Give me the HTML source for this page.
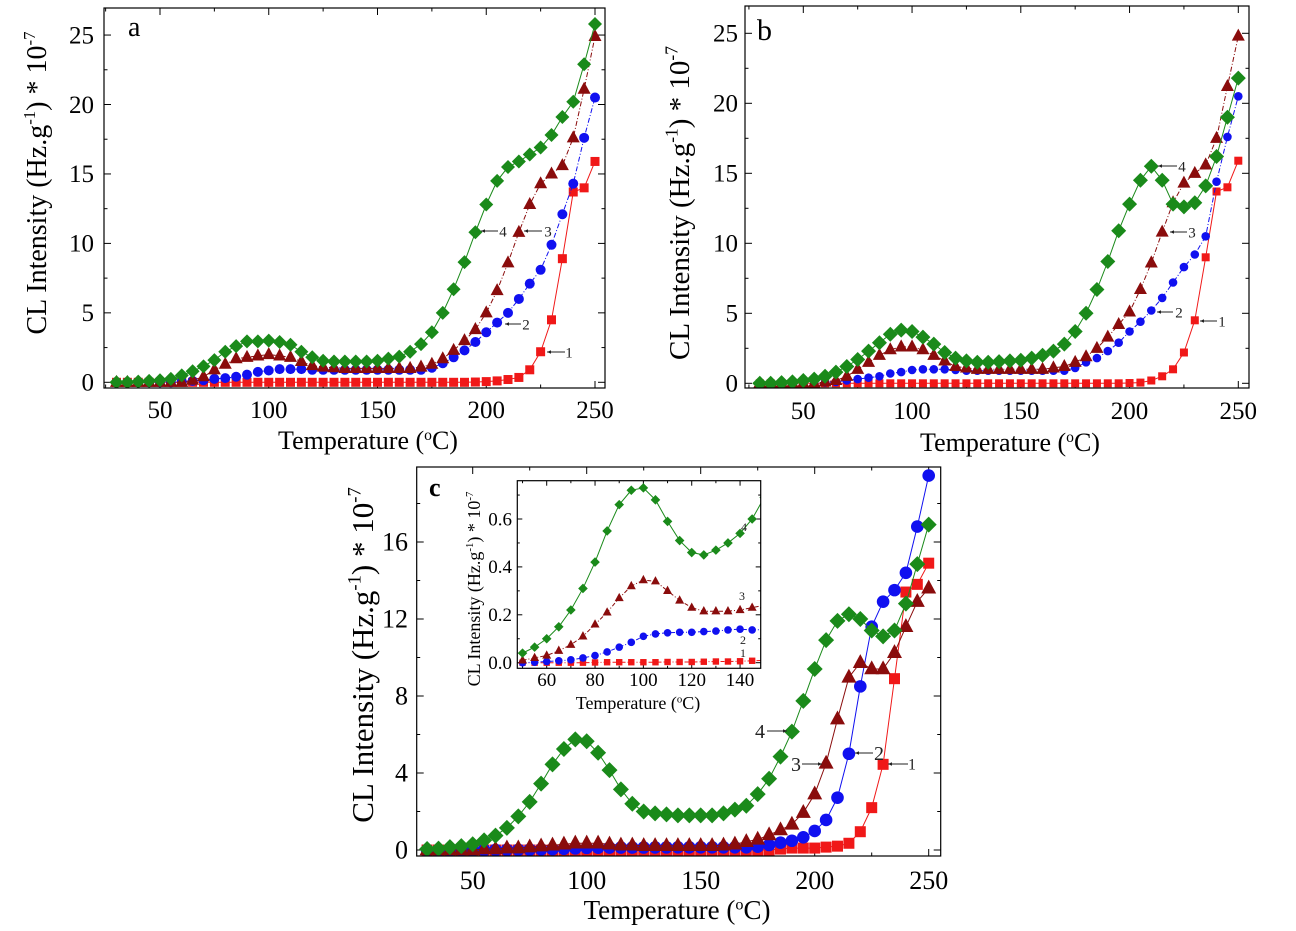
<!DOCTYPE html>
<html><head><meta charset="utf-8"><style>
html,body{margin:0;padding:0;background:#fff;}
svg{display:block;font-family:"Liberation Serif",serif;}
</style></head>
<body>
<svg id="fig" width="1296" height="931" viewBox="0 0 1296 931" xmlns="http://www.w3.org/2000/svg"></svg>
<script>
const temps=[30,35,40,45,50,55,60,65,70,75,80,85,90,95,100,105,110,115,120,125,130,135,140,145,150,155,160,165,170,175,180,185,190,195,200,205,210,215,220,225,230,235,240,245,250];
const aGreen=[0,0,0.05,0.1,0.15,0.25,0.5,0.8,1.15,1.6,2.2,2.6,2.95,2.95,3.0,2.9,2.7,2.2,1.8,1.55,1.5,1.5,1.5,1.5,1.55,1.7,1.85,2.2,2.75,3.6,5.0,6.7,8.65,10.8,12.8,14.5,15.5,15.9,16.4,16.9,17.8,19.1,20.2,22.9,25.8];
const aDark=[0,0,0,0,0,0,0,0.15,0.4,0.9,1.3,1.7,1.8,1.9,2.0,1.9,1.8,1.5,1.2,1.1,1.05,1.0,1.0,1.0,1.0,1.0,1.0,1.0,1.1,1.3,1.7,2.3,3.0,3.8,5.0,6.6,8.6,10.8,12.8,14.3,15.0,15.6,17.6,21.1,24.9];
const aBlue=[0,0,0,0,0,0,0.05,0.1,0.15,0.25,0.3,0.4,0.55,0.75,0.85,0.95,0.95,0.95,0.9,0.9,0.9,0.9,0.9,0.9,0.9,0.9,0.9,0.9,0.9,1.05,1.37,1.8,2.3,2.9,3.6,4.3,5.0,6.0,7.1,8.1,9.9,12.1,14.3,17.6,20.5];
const aRed=[0,0,0,0,0,0,0,0,0,0,0,0,0,0,0,0,0,0,0,0,0,0,0,0,0,0,0,0,0,0,0,0,0,0.02,0.05,0.1,0.2,0.35,0.9,2.2,4.5,8.9,13.7,14.0,15.9];
const bGreen=[0,0,0.05,0.1,0.2,0.3,0.5,0.8,1.2,1.7,2.3,2.9,3.5,3.8,3.7,3.3,2.8,2.2,1.8,1.6,1.5,1.5,1.55,1.6,1.65,1.8,2.0,2.3,2.8,3.7,5.0,6.7,8.7,10.9,12.8,14.5,15.5,14.5,12.8,12.6,12.9,14.1,16.2,19.0,21.8];
const bDark=[0,0,0,0,0,0,0.1,0.2,0.5,1.0,1.5,2.0,2.4,2.6,2.6,2.4,2.0,1.6,1.2,1.1,1.0,1.0,1.0,1.0,1.0,1.0,1.0,1.1,1.2,1.5,1.9,2.5,3.3,4.2,5.1,6.7,8.6,10.8,12.9,14.3,15.0,15.6,17.5,21.2,24.8];
const bBlue=[0,0,0,0,0,0,0.05,0.1,0.2,0.3,0.4,0.5,0.7,0.8,0.95,1.0,1.0,1.0,0.95,0.9,0.9,0.9,0.9,0.9,0.9,0.9,0.9,0.9,0.9,1.1,1.5,1.8,2.3,2.9,3.7,4.4,5.2,6.1,7.2,8.3,9.2,10.5,14.4,17.6,20.5];
const bRed=[0,0,0,0,0,0,0,0,0,0,0,0,0,0,0,0,0,0,0,0,0,0,0,0,0,0,0,0,0,0,0,0,0,0,0.02,0.05,0.2,0.5,1.0,2.2,4.5,9.0,13.7,14.0,15.9];
const cGreen=[0.05,0.07,0.15,0.2,0.3,0.5,0.75,1.15,1.75,2.5,3.45,4.45,5.25,5.75,5.65,5.05,4.15,3.15,2.4,2.0,1.9,1.85,1.8,1.8,1.8,1.8,1.9,2.1,2.3,2.9,3.7,4.85,6.15,7.75,9.4,10.9,11.9,12.25,12.0,11.4,11.1,11.4,12.8,14.85,16.9];
const cDark=[0,0,0,0,0,0.05,0.05,0.1,0.1,0.15,0.2,0.25,0.3,0.35,0.35,0.35,0.3,0.25,0.25,0.22,0.22,0.22,0.22,0.22,0.22,0.22,0.25,0.3,0.43,0.55,0.78,1.04,1.33,1.94,2.9,4.5,6.8,8.97,9.73,9.4,9.4,10.25,11.6,12.9,13.6];
const cBlue=[0,0,0,0,0,0,0.005,0.01,0.012,0.02,0.03,0.045,0.065,0.085,0.11,0.12,0.125,0.127,0.127,0.13,0.132,0.137,0.14,0.138,0.14,0.14,0.14,0.14,0.14,0.17,0.26,0.38,0.48,0.66,0.99,1.56,2.72,5.0,8.5,11.6,12.9,13.5,14.4,16.8,19.45];
const cRed=[0,0,0,0,0,0,0,0,0,0,0,0,0,0,0,0,0,0,0,0,0,0,0,0,0,0,0,0,0,0,0,0.05,0.1,0.1,0.1,0.15,0.2,0.35,0.95,2.2,4.45,8.9,13.4,13.8,14.9];
const iTemps=[50,55,60,65,70,75,80,85,90,95,100,105,110,115,120,125,130,135,140,145,150];
const iGreen=[0.04,0.065,0.1,0.15,0.22,0.31,0.42,0.55,0.66,0.72,0.73,0.68,0.59,0.51,0.46,0.45,0.47,0.5,0.54,0.6,0.69];
const iDark=[0.01,0.02,0.03,0.05,0.075,0.11,0.16,0.21,0.27,0.32,0.345,0.34,0.3,0.26,0.23,0.215,0.215,0.215,0.22,0.23,0.24];
const iBlue=[0,0.002,0.005,0.008,0.012,0.02,0.03,0.045,0.065,0.085,0.11,0.12,0.125,0.127,0.127,0.13,0.132,0.137,0.14,0.137,0.138];
const iRed=[0,0,0,0,0,0,0.001,0.002,0.002,0.002,0.002,0.002,0.003,0.003,0.003,0.004,0.005,0.005,0.006,0.008,0.01];
const mainXTicks=[50,100,150,200,250];
const abYTicks=[0,5,10,15,20,25];
const cYTicks=[0,4,8,12,16];
const iXTicks=[60,80,100,120,140];
const iYTicks=[0,0.2,0.4,0.6];

const NS="http://www.w3.org/2000/svg";
const root=document.getElementById('fig');
function mk(tag,attrs,parent){const e=document.createElementNS(NS,tag);for(const k in attrs)e.setAttribute(k,attrs[k]);(parent||root).appendChild(e);return e;}
const COL={red:'#f01818',blue:'#1010f0',dark:'#8a0c0c',green:'#1a8a1a'};

function ytitle(g,x,y,fs,name){
  const t=mk('text',{x:x,y:y,'font-size':fs,'text-anchor':'middle',transform:'rotate(-90 '+x+' '+y+')'},g);
  
  
  t.innerHTML='CL Intensity (Hz.g<tspan dy="'+(-fs*0.4)+'" font-size="'+(fs*0.6)+'">-1</tspan><tspan dy="'+(fs*0.4)+'">) * 10</tspan><tspan dy="'+(-fs*0.4)+'" font-size="'+(fs*0.6)+'">-7</tspan>';
  return t;
}
function xtitle(g,x,y,fs,name){
  const t=mk('text',{x:x,y:y,'font-size':fs,'text-anchor':'middle'},g);
  
  
  t.innerHTML='Temperature (<tspan dy="'+(-fs*0.35)+'" font-size="'+(fs*0.6)+'">o</tspan><tspan dy="'+(fs*0.35)+'">C)</tspan>';
  return t;
}
function marker(g,shape,cx,cy,s,color){
  let e;
  if(shape==='diamond')e=mk('polygon',{points:`${cx},${cy-s} ${cx+s},${cy} ${cx},${cy+s} ${cx-s},${cy}`,fill:color},g);
  else if(shape==='circle')e=mk('circle',{cx:cx,cy:cy,r:s,fill:color},g);
  else if(shape==='square')e=mk('rect',{x:cx-s,y:cy-s,width:2*s,height:2*s,fill:color},g);
  else e=mk('polygon',{points:`${cx},${cy-s*1.15} ${cx+s},${cy+s*0.7} ${cx-s},${cy+s*0.7}`,fill:color},g);
  return e;
}
function arrowLabel(g,x1,x2,y,label,lx,fs,pointLeft,name){
  const l=mk('line',{x1:x1,y1:y,x2:x2,y2:y,stroke:'#222','stroke-width':1},g);
  
  
  const hx=pointLeft?x1:x2, d=pointLeft?4:-4;
  mk('polygon',{points:`${hx},${y} ${hx+d},${y-1.8} ${hx+d},${y+1.8}`,fill:'#222'},g);
  const t=mk('text',{x:lx,y:y+fs*0.35,'font-size':fs,'text-anchor':'middle',fill:'#222'},g);
  t.textContent=label;
  
  
}

function panel(cfg){
  const g=mk('g',{});
  
  
  const X=t=>cfg.x0+(t-cfg.t0)*cfg.kx, Y=v=>cfg.y0-v*cfg.ky;
  const f=cfg.frame;
  const cid='clip-'+cfg.name;
  const cp=mk('clipPath',{id:cid},g);mk('rect',{x:f[0],y:f[1],width:f[2]-f[0],height:f[3]-f[1]},cp);
  const tk=mk('g',{stroke:'#000','stroke-width':1},g);
  for(let t=cfg.xMinorStart;t<=cfg.xMax;t+=cfg.xMinor){const x=X(t);if(x<=f[0]+1||x>=f[2]-1)continue;const major=cfg.xt.some(v=>Math.abs(v-t)<1e-6);const L=major?cfg.tl:cfg.tl/2;
    mk('line',{x1:x,y1:f[3],x2:x,y2:f[3]-L},tk);mk('line',{x1:x,y1:f[1],x2:x,y2:f[1]+L},tk);}
  for(let v=0;v<=cfg.yMax+1e-9;v+=cfg.yMinor){const y=Y(v);if(y<=f[1]+1||y>=f[3])continue;const major=cfg.yt.some(w=>Math.abs(w-v)<1e-6);const L=major?cfg.tl:cfg.tl/2;
    mk('line',{x1:f[0],y1:y,x2:f[0]+L,y2:y},tk);mk('line',{x1:f[2],y1:y,x2:f[2]-L,y2:y},tk);}
  cfg.xt.forEach(t=>{const e=mk('text',{x:X(t),y:cfg.xLabY,'font-size':cfg.fs,'text-anchor':'middle'},g);e.textContent=t;
    
    });
  cfg.yt.forEach(v=>{const e=mk('text',{x:cfg.yLabX,y:Y(v)+cfg.fs*0.33,'font-size':cfg.fs,'text-anchor':'end'},g);e.textContent=cfg.fmt?cfg.fmt(v):v;
    
    });
  const sg=mk('g',{'clip-path':'url(#'+cid+')'},g);
  cfg.series.forEach(s=>{
    const pl=mk('polyline',{points:cfg.temps.map((t,i)=>X(t)+','+Y(s.vals[i])).join(' '),fill:'none',stroke:s.color,'stroke-width':1,'stroke-dasharray':s.dash||''},sg);
    
    
    cfg.temps.forEach((t,i)=>{const m=marker(sg,s.shape,X(t),Y(s.vals[i]),s.size,s.color);
      
      });
  });
  const fr=mk('rect',{x:f[0],y:f[1],width:f[2]-f[0],height:f[3]-f[1],fill:'none',stroke:'#000','stroke-width':1.2},g);
  
  
  return g;
}
function S(name,vals,color,shape,size,dash){return {name,vals,color,shape,size,dash};}

const ga=panel({name:'panel-a',temps:temps,x0:160,t0:50,kx:2.175,y0:382.3,ky:13.89,frame:[104,8,605,388],
  xt:mainXTicks,xMinorStart:25,xMinor:25,xMax:255,yt:abYTicks,yMinor:2.5,yMax:26,tl:7,fs:25,xLabY:418,yLabX:94,
  series:[S('series-1',aRed,COL.red,'square',4.5),S('series-2',aBlue,COL.blue,'circle',5,'5 2 1 2'),S('series-3',aDark,COL.dark,'triangle',6.5,'5 2 1 2'),S('series-4',aGreen,COL.green,'diamond',7)]});
ytitle(ga,46,183,28,'y-axis-title-a');xtitle(ga,368,449,26,'x-axis-title-a');
{const t=mk('text',{x:128,y:36,'font-size':28},ga);t.textContent='a';}
arrowLabel(ga,481,498,231,'4',503,15,true,'label-4-a');arrowLabel(ga,524,542,231,'3',548,15,true,'label-3-a');
arrowLabel(ga,505,521,324,'2',526,15,true,'label-2-a');arrowLabel(ga,547,565,352,'1',569,15,true,'label-1-a');

const gb=panel({name:'panel-b',temps:temps,x0:803.3,t0:50,kx:2.175,y0:383.3,ky:14.0,frame:[745,6,1249,388],
  xt:mainXTicks,xMinorStart:25,xMinor:25,xMax:255,yt:abYTicks,yMinor:2.5,yMax:26,tl:7,fs:25,xLabY:419,yLabX:738,
  series:[S('series-1',bRed,COL.red,'square',4),S('series-2',bBlue,COL.blue,'circle',4.3,'5 2 1 2'),S('series-3',bDark,COL.dark,'triangle',6.5,'5 2 1 2'),S('series-4',bGreen,COL.green,'diamond',7.5)]});
ytitle(gb,689,203,29,'y-axis-title-b');xtitle(gb,1010,451,26,'x-axis-title-b');
{const t=mk('text',{x:757,y:40,'font-size':30},gb);t.textContent='b';}
arrowLabel(gb,1158,1177,166,'4',1182,15,true,'label-4-b');arrowLabel(gb,1170,1187,232,'3',1192,15,true,'label-3-b');
arrowLabel(gb,1157,1173,312,'2',1179,15,true,'label-2-b');arrowLabel(gb,1200,1217,321,'1',1222,15,true,'label-1-b');

const gc=panel({name:'panel-c',temps:temps,x0:472.7,t0:50,kx:2.28,y0:850,ky:19.25,frame:[416.7,467,940.7,856],
  xt:mainXTicks,xMinorStart:25,xMinor:25,xMax:255,yt:cYTicks,yMinor:2,yMax:20,tl:7,fs:26,xLabY:889,yLabX:408,
  series:[S('series-1',cRed,COL.red,'square',5.5),S('series-2',cBlue,COL.blue,'circle',6.3),S('series-3',cDark,COL.dark,'triangle',7.5),S('series-4',cGreen,COL.green,'diamond',8)]});
ytitle(gc,373,655,31,'y-axis-title-c');xtitle(gc,677,919,27,'x-axis-title-c');
{const t=mk('text',{x:429,y:496,'font-size':26,'font-weight':'bold'},gc);t.textContent='c';}
arrowLabel(gc,767,787,731,'4',760,20,false,'label-4-c');arrowLabel(gc,802,822,764,'3',796,20,false,'label-3-c');
arrowLabel(gc,855,873,753,'2',879,20,true,'label-2-c');arrowLabel(gc,888,908,764,'1',912,16,true,'label-1-c');

mk('rect',{x:517.3,y:480.7,width:243.4,height:187.6,fill:'#fff'});
const gi=panel({name:'inset-c',temps:iTemps,x0:546.7,t0:60,kx:2.417,y0:662.7,ky:239.5,frame:[517.3,480.7,760.7,668.3],
  xt:iXTicks,xMinorStart:50,xMinor:10,xMax:152,yt:iYTicks,yMinor:0.1,yMax:0.76,tl:5,fs:19,xLabY:686,yLabX:512,fmt:v=>v.toFixed(1),
  series:[S('series-1',iRed,COL.red,'square',3.2,'4 2 1 2'),S('series-2',iBlue,COL.blue,'circle',3.8,'4 2 1 2'),S('series-3',iDark,COL.dark,'triangle',4.5,'4 2 1 2'),S('series-4',iGreen,COL.green,'diamond',4.8)]});
ytitle(gi,480,589,18,'inset-y-axis-title');xtitle(gi,638,709,18,'inset-x-axis-title');
[['4',744,531],['3',742,600],['2',743,644],['1',743,657]].forEach(a=>{const t=mk('text',{x:a[1],y:a[2],'font-size':12,'text-anchor':'middle',fill:'#222'},gi);t.textContent=a[0];
  
  });
</script>
</body></html>
